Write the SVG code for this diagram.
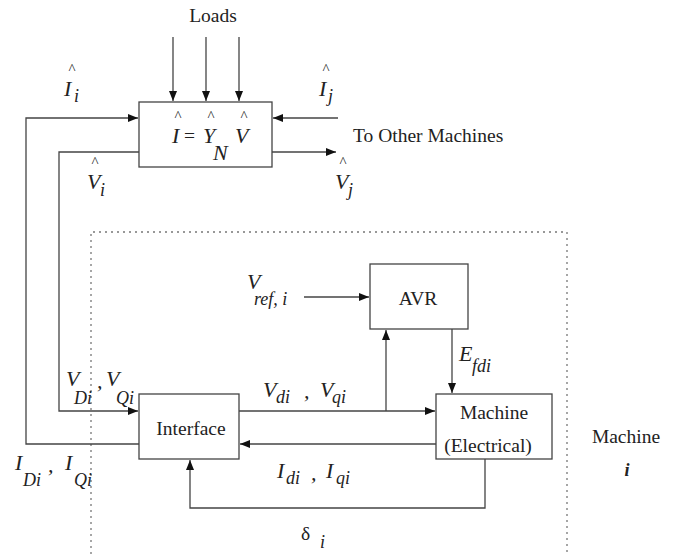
<svg xmlns="http://www.w3.org/2000/svg" width="680" height="554" viewBox="0 0 680 554">
<defs>
<marker id="arr" viewBox="0 0 10 8" refX="10" refY="4" markerWidth="10" markerHeight="8" markerUnits="userSpaceOnUse" orient="auto">
<path d="M0,0 L10,4 L0,8 Z" fill="#111"/>
</marker>
</defs>
<style>
.box{fill:#fff;stroke:#444;stroke-width:1.3}
.ln{fill:none;stroke:#444;stroke-width:1.3}
.dot{fill:none;stroke:#777;stroke-width:1.3;stroke-dasharray:2 4}
.t{font-family:"Liberation Serif",serif;font-size:19.5px;fill:#222}
.m{font-family:"Liberation Serif",serif;font-style:italic;font-size:22px;fill:#222}
.s{font-family:"Liberation Serif",serif;font-style:italic;font-size:18px;fill:#222}
.h{font-family:"Liberation Serif",serif;font-size:15px;fill:#222;text-anchor:middle}
.c{text-anchor:middle}
</style>
<rect width="680" height="554" fill="#fff"/>
<path class="dot" d="M91,554 V232 H567 V554"/>
<g id="connectors">
<path class="ln" d="M173,37 V101" marker-end="url(#arr)"/>
<path class="ln" d="M206,37 V101" marker-end="url(#arr)"/>
<path class="ln" d="M239,37 V101" marker-end="url(#arr)"/>
<path class="ln" d="M139,444 H26 V118 H138" marker-end="url(#arr)"/>
<path class="ln" d="M139,152 H59 V411 H138" marker-end="url(#arr)"/>
<path class="ln" d="M338,118 H273" marker-end="url(#arr)"/>
<path class="ln" d="M272,152 H336" marker-end="url(#arr)"/>
<path class="ln" d="M239,411 H435" marker-end="url(#arr)"/>
<path class="ln" d="M386,411 V330" marker-end="url(#arr)"/>
<path class="ln" d="M436,444 H240" marker-end="url(#arr)"/>
<path class="ln" d="M485,459 V508 H190 V460" marker-end="url(#arr)"/>
<path class="ln" d="M304,297 H369" marker-end="url(#arr)"/>
<path class="ln" d="M452,329 V393" marker-end="url(#arr)"/>
</g>
<g id="network">
<rect class="box" x="139" y="102" width="133" height="65"/>
<text class="h" x="178" y="121">^</text>
<text class="h" x="211" y="121">^</text>
<text class="h" x="244" y="121">^</text>
<text class="m" x="172" y="143">I</text>
<text class="t" x="184" y="142">=</text>
<text class="m" x="203" y="143">Y</text>
<text class="m" x="213" y="160">N</text>
<text class="m" x="235" y="143">V</text>
</g>
<g id="interface">
<rect class="box" x="139" y="394" width="100" height="65"/>
<text class="t c" x="191" y="435">Interface</text>
</g>
<g id="avr">
<rect class="box" x="370" y="264" width="98" height="65"/>
<text class="t c" x="418" y="305">AVR</text>
</g>
<g id="machine">
<rect class="box" x="436" y="394" width="116" height="65"/>
<text class="t c" x="494" y="419">Machine</text>
<text class="t c" x="488" y="452">(Electrical)</text>
</g>
<g id="labels">
<text class="t c" x="213" y="22">Loads</text>
<text class="t" x="353" y="142">To Other Machines</text>
<text class="h" x="72" y="74">^</text>
<text class="m" x="64" y="96">I</text>
<text class="s" x="74" y="102">i</text>
<text class="h" x="326" y="74">^</text>
<text class="m" x="319" y="96">I</text>
<text class="s" x="328" y="102">j</text>
<text class="h" x="95" y="167">^</text>
<text class="m" x="87" y="189">V</text>
<text class="s" x="100" y="196">i</text>
<text class="h" x="343" y="167">^</text>
<text class="m" x="335" y="189">V</text>
<text class="s" x="348" y="196">j</text>
<text class="m" x="66" y="386">V</text>
<text class="s" x="74" y="404">Di</text>
<text class="m" x="97" y="388">,</text>
<text class="m" x="106" y="386">V</text>
<text class="s" x="116" y="404">Qi</text>
<text class="m" x="15" y="470">I</text>
<text class="s" x="23" y="486">Di</text>
<text class="m" x="48" y="472">,</text>
<text class="m" x="65" y="470">I</text>
<text class="s" x="74" y="486">Qi</text>
<text class="m" x="247" y="289">V</text>
<text class="s" x="254" y="305">ref, i</text>
<text class="m" x="459" y="361">E</text>
<text class="s" x="472" y="372">fdi</text>
<text class="m" x="263" y="397">V</text>
<text class="s" x="276" y="403">di</text>
<text class="m" x="304" y="398">,</text>
<text class="m" x="320" y="397">V</text>
<text class="s" x="332" y="403">qi</text>
<text class="m" x="277" y="478">I</text>
<text class="s" x="286" y="484">di</text>
<text class="m" x="311" y="480">,</text>
<text class="m" x="326" y="478">I</text>
<text class="s" x="336" y="484">qi</text>
<text class="t" x="301" y="540" font-size="22">δ</text>
<text class="s" x="320" y="548">i</text>
<text class="t c" x="626" y="443">Machine</text>
<text class="s c" x="627" y="476" font-weight="bold">i</text>
</g>
</svg>
